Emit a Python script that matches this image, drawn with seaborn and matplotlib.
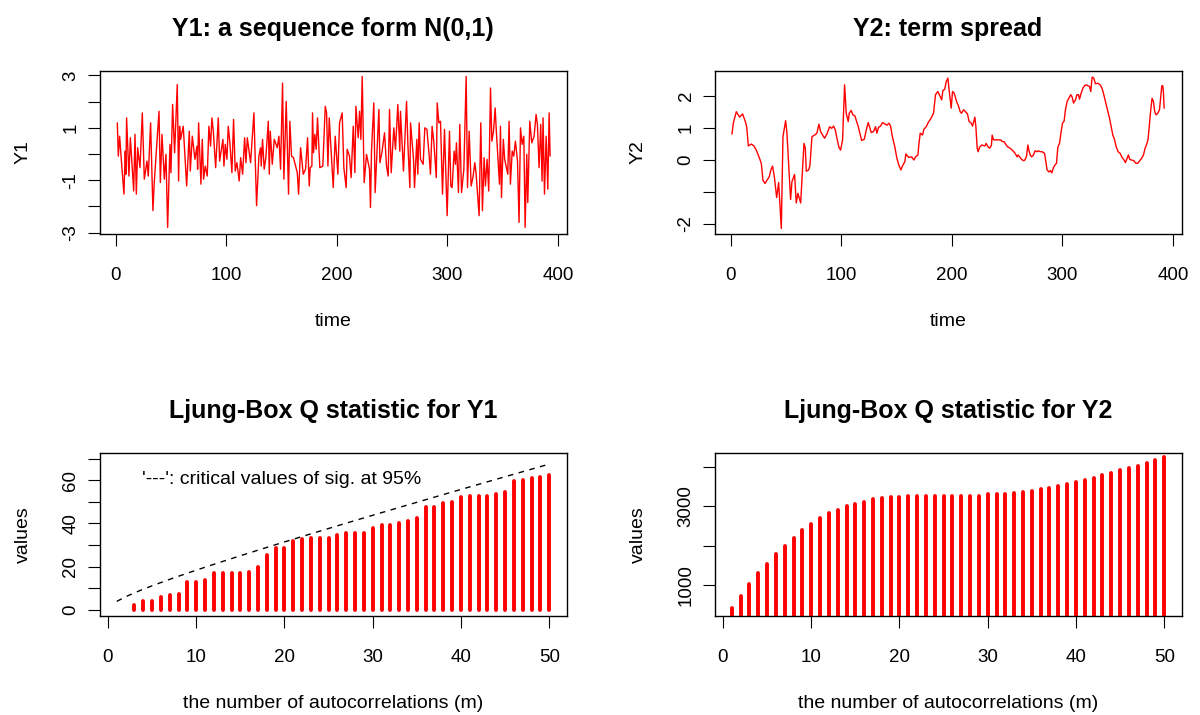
import matplotlib
matplotlib.use("Agg")
import matplotlib.pyplot as plt
import seaborn as sns

# Serie Y1 (puntos de giro): (tiempo, valor)
y1_points = [
    (1.5, 1.19), (2.4, -0.08), (3.6, 0.68), (5.1, -0.20), (7.5, -1.53), (8.7, 0.11), (9.3, -0.77),
    (9.9, 1.38), (12.0, -0.84), (13.3, 0.62), (16.3, -1.41), (17.5, 0.75), (18.7, -1.53), (19.9, 0.24),
    (22.0, -0.52), (24.1, 1.57), (25.9, -0.96), (28.3, -0.27), (29.5, -0.84), (31.6, 1.19), (33.7, -2.16),
    (34.9, -1.09), (39.2, 1.63), (40.4, -1.09), (41.9, 0.75), (44.0, -0.96), (45.5, -0.01), (47.0, -2.80),
    (49.1, 0.37), (50.0, -0.71), (51.5, 1.89), (53.3, 0.05), (55.7, 2.65), (56.9, -1.03), (57.8, 1.06),
    (58.7, 0.56), (61.1, 1.06), (64.2, -1.22), (66.6, 0.87), (67.5, -0.65), (69.3, 0.68), (71.7, -0.20),
    (73.5, 0.30), (74.1, -0.58), (75.0, 1.19), (77.1, -1.15), (78.3, 0.56), (79.5, -0.96), (81.0, -0.46),
    (82.8, -0.84), (84.3, 1.06), (85.8, 0.30), (87.0, 1.38), (88.3, 0.87), (90.4, -0.52), (92.8, 1.38),
    (94.0, -0.27), (97.0, 0.56), (97.9, -0.46), (99.1, 0.37), (100.6, -0.20), (101.8, 1.06), (103.3, 0.43),
    (105.1, -0.71), (106.6, 1.32), (108.1, -0.65), (109.6, -0.33), (111.7, -1.03), (113.0, -0.14),
    (114.8, -0.77), (116.6, 0.62), (117.8, -0.33), (119.0, 0.62), (120.2, 0.24), (122.0, -0.33),
    (125.0, 1.57), (127.4, -1.97), (129.5, -0.08), (131.0, 0.24), (131.6, -0.46), (132.8, 0.56),
    (134.3, -0.58), (135.8, -0.14), (138.0, 1.25), (138.9, -0.77), (139.8, 0.87), (141.6, -0.39),
    (143.4, 0.56), (146.1, 0.24), (147.6, 0.68), (149.1, -0.58), (150.9, 2.71), (152.1, -0.96),
    (154.2, 2.01), (156.3, -1.53), (157.5, 1.25), (159.0, -0.08), (160.8, -0.14), (164.2, -0.71),
    (165.4, -1.53), (167.2, 0.24), (169.6, -0.77), (171.7, -0.58), (173.5, 0.62), (175.0, -1.22),
    (175.9, -0.52), (177.4, -0.46), (178.0, 1.57), (178.9, 0.05), (180.1, 0.75), (181.3, 0.18),
    (182.5, 1.38), (184.6, -0.52), (187.3, -0.46), (189.5, 1.82), (190.7, 1.57), (191.9, -0.46),
    (193.1, 1.38), (196.7, -1.28), (198.5, 0.68), (200.9, -0.77), (202.4, 1.19), (204.8, 1.57),
    (206.3, -0.52), (208.4, -1.28), (209.3, 0.18), (211.4, -0.08), (212.9, -0.90), (214.8, 1.06),
    (216.3, -0.71), (217.2, 1.82), (219.3, 0.62), (220.5, 1.63), (221.7, 0.56), (222.9, 2.96),
    (224.7, -1.09), (226.8, -0.01), (229.5, -0.58), (230.4, -2.04), (231.3, 0.11), (233.4, 1.95),
    (234.6, -1.47), (238.0, 1.70), (238.9, -0.33), (240.7, 0.05), (243.1, 0.81), (244.9, -0.46),
    (246.4, -0.84), (247.6, 1.70), (249.1, -0.71), (251.5, 1.00), (253.0, 0.18), (255.1, 1.89),
    (256.9, 0.11), (257.5, 1.63), (260.2, -0.65), (263.0, 2.01), (264.2, 0.37), (266.0, -1.28),
    (266.6, 1.19), (269.3, -0.20), (270.2, -1.28), (272.3, 0.56), (273.2, -0.77), (274.4, 1.19),
    (275.6, -0.20), (278.0, -0.39), (279.5, 1.00), (281.4, 0.94), (283.5, -0.08), (284.6, -0.77),
    (286.1, 1.06), (287.7, 0.43), (289.9, -0.90), (290.7, 1.95), (292.2, 1.19), (293.7, 1.25),
    (295.5, -1.53), (297.3, 0.94), (299.7, -2.35), (301.8, 0.87), (303.0, -1.22), (304.2, -1.28),
    (306.0, 0.11), (307.2, -0.39), (308.1, 0.43), (309.9, -1.47), (311.1, 1.13), (312.7, -1.47),
    (314.8, -0.58), (316.9, 2.96), (318.1, -1.28), (319.6, 0.87), (321.4, -1.22), (323.2, -0.84),
    (324.7, -0.33), (325.9, -0.77), (328.6, -2.35), (330.1, 1.19), (331.6, -2.16), (333.1, -0.14),
    (334.3, -1.22), (335.8, -0.20), (337.3, -1.41), (338.9, 2.52), (340.1, 0.49), (341.6, 0.87),
    (343.1, 1.76), (344.0, 1.00), (345.5, -0.08), (347.0, -1.15), (347.9, 1.06), (348.8, -1.66),
    (350.5, 0.56), (351.7, -0.20), (354.5, -0.77), (355.7, 1.25), (356.9, -1.15), (358.5, 0.11),
    (359.9, -0.08), (361.4, 0.49), (363.3, -0.27), (364.7, -2.61), (366.0, 1.00), (367.5, 0.37),
    (369.0, 0.68), (370.2, -2.80), (371.7, -0.01), (372.6, -1.85), (374.4, 1.25), (376.2, 0.43),
    (378.3, 0.68), (380.1, 1.51), (381.3, 1.13), (382.8, -0.52), (384.3, 1.13), (385.5, -1.03),
    (386.4, 1.38), (387.7, -1.53), (389.2, 0.68), (390.7, -1.34), (391.9, 1.57), (392.8, -0.08),
]

# Serie Y2 (term spread): (tiempo, valor)
y2_points = [
    (1.2, 0.80), (2.4, 1.14), (5.1, 1.50), (8.1, 1.33), (10.8, 1.43), (13.3, 1.19), (14.5, 1.03),
    (16.0, 0.43), (18.7, 0.49), (21.1, 0.43), (23.2, 0.30), (25.6, 0.09), (27.7, -0.11), (29.2, -0.64),
    (31.0, -0.74), (34.9, -0.53), (36.4, -0.32), (37.9, -0.20), (39.5, -0.53), (41.6, -1.18),
    (43.4, -0.71), (45.8, -2.15), (47.3, 0.72), (49.7, 1.22), (50.9, 0.83), (52.4, -0.11), (54.2, -1.24),
    (55.4, -0.69), (57.8, -0.46), (59.3, -1.35), (60.8, -1.05), (63.3, -1.35), (64.8, -0.43),
    (66.3, 0.51), (67.5, 0.36), (68.4, -0.36), (70.5, -0.32), (71.7, -0.18), (73.5, 0.72), (75.9, 0.77),
    (78.0, 0.83), (79.8, 1.11), (81.3, 0.88), (84.9, 0.67), (87.0, 0.80), (89.5, 1.03), (91.3, 0.98),
    (93.1, 1.05), (94.6, 0.93), (96.4, 0.62), (97.9, 0.39), (99.4, 0.30), (101.2, 0.62), (103.0, 2.34),
    (104.5, 1.45), (106.3, 1.19), (107.2, 1.45), (109.0, 1.54), (110.5, 1.40), (112.3, 1.37),
    (115.4, 1.03), (117.2, 0.77), (118.4, 0.60), (120.8, 0.64), (122.6, 0.93), (124.4, 1.16),
    (127.1, 0.85), (129.2, 0.88), (131.0, 1.03), (132.2, 0.83), (133.7, 1.01), (135.5, 1.05),
    (137.3, 1.16), (139.2, 1.12), (141.3, 1.08), (143.1, 1.14), (144.6, 1.05), (146.1, 0.74),
    (148.5, 0.39), (150.3, 0.04), (152.1, -0.17), (153.9, -0.32), (155.7, -0.17), (157.5, -0.06),
    (158.4, 0.18), (161.1, 0.07), (163.6, 0.09), (165.7, -0.01), (167.2, 0.09), (169.3, 0.15),
    (170.2, 0.49), (171.4, 0.83), (173.5, 0.77), (174.7, 0.95), (176.8, 1.03), (178.6, 1.16),
    (181.3, 1.30), (183.4, 1.45), (185.2, 2.03), (187.3, 2.13), (190.8, 1.87), (191.9, 2.16),
    (193.5, 2.20), (194.9, 2.44), (196.4, 2.55), (197.3, 2.24), (199.4, 1.61), (200.6, 2.13),
    (202.1, 2.08), (204.5, 1.79), (205.7, 1.71), (207.5, 1.50), (208.7, 1.45), (210.5, 1.56),
    (212.3, 1.50), (214.1, 1.43), (215.6, 1.19), (217.2, 1.16), (218.7, 1.05), (220.8, 1.33),
    (221.7, 1.03), (222.9, 0.36), (223.8, 0.25), (225.0, 0.39), (227.1, 0.46), (229.8, 0.43),
    (231.0, 0.51), (232.5, 0.41), (234.3, 0.36), (235.8, 0.46), (236.4, 0.77), (237.7, 0.62),
    (239.5, 0.62), (241.6, 0.62), (244.0, 0.62), (245.5, 0.57), (247.3, 0.56), (249.1, 0.46),
    (250.9, 0.39), (252.7, 0.36), (254.5, 0.30), (256.0, 0.25), (257.5, 0.18), (259.0, 0.09),
    (259.9, 0.15), (261.7, 0.07), (263.0, 0.01), (264.8, -0.03), (266.0, -0.01), (267.5, 0.11),
    (268.7, 0.46), (269.6, 0.30), (270.8, 0.15), (272.1, 0.09), (273.8, 0.15), (275.3, 0.28),
    (276.8, 0.25), (278.3, 0.28), (279.8, 0.25), (281.6, 0.25), (283.8, 0.20), (285.0, -0.06),
    (286.1, -0.32), (287.7, -0.38), (289.2, -0.34), (290.4, -0.41), (291.9, -0.24), (293.1, -0.17),
    (294.6, -0.11), (295.8, 0.39), (297.3, 0.51), (298.8, 0.88), (300.0, 1.14), (301.5, 1.21),
    (302.7, 1.56), (304.2, 1.82), (305.7, 1.92), (307.5, 2.03), (308.8, 1.95), (310.0, 1.77),
    (311.8, 1.87), (313.0, 2.03), (314.5, 2.03), (315.4, 1.89), (316.9, 2.08), (318.4, 2.23),
    (319.9, 2.31), (321.4, 2.34), (322.9, 2.31), (324.4, 2.29), (325.6, 2.13), (326.8, 2.58),
    (328.3, 2.55), (329.8, 2.37), (331.9, 2.39), (334.0, 2.34), (335.8, 2.23), (337.0, 2.08),
    (338.8, 1.82), (340.7, 1.56), (342.5, 1.30), (344.0, 1.03), (345.5, 0.77), (347.0, 0.64),
    (348.5, 0.41), (350.3, 0.25), (352.1, 0.20), (353.9, 0.07), (355.7, -0.01), (356.9, -0.09),
    (358.4, 0.04), (359.6, 0.15), (360.8, 0.01), (362.7, -0.01), (364.5, -0.03), (366.3, -0.11),
    (368.1, -0.11), (369.6, -0.04), (370.8, 0.01), (372.0, 0.07), (373.2, 0.15), (374.7, 0.36),
    (375.9, 0.46), (377.4, 0.64), (378.6, 1.09), (379.8, 1.56), (381.0, 1.92), (382.2, 1.82),
    (383.4, 1.50), (384.6, 1.40), (386.1, 1.45), (387.7, 1.56), (388.9, 1.97), (389.8, 2.31),
    (390.7, 2.31), (391.3, 2.08), (391.9, 1.61),
]

# Estadistico Q de Ljung-Box
lb1_lags = list(range(3, 51))
lb1_q = [2.2, 3.9, 3.9, 6.1, 6.7, 7.2, 12.8, 12.8, 13.8, 17.1,
         17.1, 17.1, 17.1, 17.7, 19.9, 25.5, 28.8, 28.8, 31.7, 32.8,
         33.3, 33.3, 33.3, 34.4, 35.6, 35.6, 35.6, 37.8, 39.3, 39.3,
         40.0, 41.1, 42.3, 47.7, 47.7, 49.6, 50.1, 52.3, 52.9, 52.9,
         52.9, 53.5, 54.6, 59.6, 60.2, 61.1, 61.7, 62.4]
lb2_lags = list(range(1, 51))
lb2_q = [417, 730, 1025, 1304, 1541, 1786, 1997, 2209, 2395, 2547,
         2699, 2826, 2910, 3003, 3071, 3122, 3181, 3215, 3249, 3249,
         3274, 3274, 3274, 3274, 3274, 3274, 3274, 3274, 3274, 3308,
         3308, 3308, 3342, 3367, 3401, 3434, 3460, 3519, 3561, 3612,
         3680, 3730, 3798, 3857, 3916, 3975, 4035, 4094, 4187, 4254]

# Valores criticos al 95%
crit_lags = list(range(1, 51))
crit_95 = [3.84, 5.99, 7.81, 9.49, 11.07, 12.59, 14.07, 15.51, 16.92, 18.31,
           19.68, 21.03, 22.36, 23.68, 25.00, 26.30, 27.59, 28.87, 30.14, 31.41,
           32.67, 33.92, 35.17, 36.42, 37.65, 38.89, 40.11, 41.34, 42.56, 43.77,
           44.99, 46.19, 47.40, 48.60, 49.80, 51.00, 52.19, 53.38, 54.57, 55.76,
           56.94, 58.12, 59.30, 60.48, 61.66, 62.83, 64.00, 65.17, 66.34, 67.50]

sns.set_style("ticks")
plt.rcParams['font.family'] = ['Liberation Sans', 'DejaVu Sans']
plt.rcParams['text.color'] = 'black'
plt.rcParams['axes.labelcolor'] = 'black'
plt.rcParams['axes.titlecolor'] = 'black'
plt.rcParams['xtick.color'] = 'black'
plt.rcParams['ytick.color'] = 'black'

fig = plt.figure(figsize=(12, 7.15), dpi=100)

W_PX, H_PX = 467.0, 163.0
izq = [99.5 / 1200, 714.5 / 1200]
abajo = [(715 - 233.7) / 715, (715 - 615.7) / 715]
ancho, alto = W_PX / 1200, H_PX / 715


def estilo(ax, titulo, xlab, ylab, xt, xtl, yt, ytl):
    ax.set_xticks(xt)
    ax.set_xticklabels(xtl)
    ax.set_yticks(yt)
    ax.set_yticklabels(ytl)
    ax.set_title(titulo, fontsize=18, fontweight='bold', pad=25, color='black')
    ax.set_xlabel(xlab, fontsize=14, va='center', color='black')
    ax.set_ylabel(ylab, fontsize=14, va='center', color='black')
    ax.xaxis.set_label_coords(0.5, -88 / H_PX)
    ax.yaxis.set_label_coords(-76 / W_PX, 0.5)
    for s in ax.spines.values():
        s.set_visible(True)
        s.set_color('black')
        s.set_linewidth(1.0)
    ax.tick_params(direction='out', length=8.6, width=0.8, colors='black', labelsize=13.5,
                   bottom=True, left=True)
    ax.tick_params(axis='x', pad=15.5)
    ax.tick_params(axis='y', pad=5.8, labelrotation=90)
    for lab in ax.get_yticklabels():
        lab.set_va('center')


# Panel 1: Y1
ax1 = fig.add_axes([izq[0], abajo[0], ancho, alto])
sns.lineplot(x=[p[0] for p in y1_points], y=[p[1] for p in y1_points], ax=ax1,
             color='red', lw=1.0, estimator=None)
ax1.set_xlim(-14.6, 407.6)
ax1.set_ylim(-3.04, 3.18)
estilo(ax1, 'Y1: a sequence form N(0,1)', 'time', 'Y1',
       [0, 100, 200, 300, 400], ['0', '100', '200', '300', '400'],
       [-3, -2, -1, 0, 1, 2, 3], ['-3', '', '-1', '', '1', '', '3'])

# Panel 2: Y2
ax2 = fig.add_axes([izq[1], abajo[0], ancho, alto])
sns.lineplot(x=[p[0] for p in y2_points], y=[p[1] for p in y2_points], ax=ax2,
             color='red', lw=1.0, estimator=None)
ax2.set_xlim(-14.6, 407.6)
ax2.set_ylim(-2.31, 2.78)
estilo(ax2, 'Y2: term spread', 'time', 'Y2',
       [0, 100, 200, 300, 400], ['0', '100', '200', '300', '400'],
       [-2, -1, 0, 1, 2], ['-2', '', '0', '1', '2'])

# Panel 3: Ljung-Box Y1
ax3 = fig.add_axes([izq[0], abajo[1], ancho, alto])
ax3.vlines(lb1_lags, 0, lb1_q, colors='red', linewidth=2.8, capstyle='round')
sns.lineplot(x=crit_lags, y=crit_95, ax=ax3, color='black', lw=1.0,
             linestyle=(0, (4, 4)), estimator=None)
ax3.text(3.8, 60.2, "'---': critical values of sig. at 95%", fontsize=14,
         ha='left', va='center', color='black')
ax3.set_xlim(-0.96, 51.96)
ax3.set_ylim(-2.8, 72.8)
estilo(ax3, 'Ljung-Box Q statistic for Y1', 'the number of autocorrelations (m)', 'values',
       [0, 10, 20, 30, 40, 50], ['0', '10', '20', '30', '40', '50'],
       [0, 10, 20, 30, 40, 50, 60, 70], ['0', '', '20', '', '40', '', '60', ''])

# Panel 4: Ljung-Box Y2
ax4 = fig.add_axes([izq[1], abajo[1], ancho, alto])
ax4.vlines(lb2_lags, 0, lb2_q, colors='red', linewidth=2.8, capstyle='round')
sns.lineplot(x=crit_lags, y=crit_95, ax=ax4, color='black', lw=1.0,
             linestyle=(0, (4, 4)), estimator=None)
ax4.set_xlim(-0.96, 51.96)
ax4.set_ylim(223, 4367)
estilo(ax4, 'Ljung-Box Q statistic for Y2', 'the number of autocorrelations (m)', 'values',
       [0, 10, 20, 30, 40, 50], ['0', '10', '20', '30', '40', '50'],
       [1000, 2000, 3000, 4000], ['1000', '', '3000', ''])

fig.savefig('out.png', dpi=100)
